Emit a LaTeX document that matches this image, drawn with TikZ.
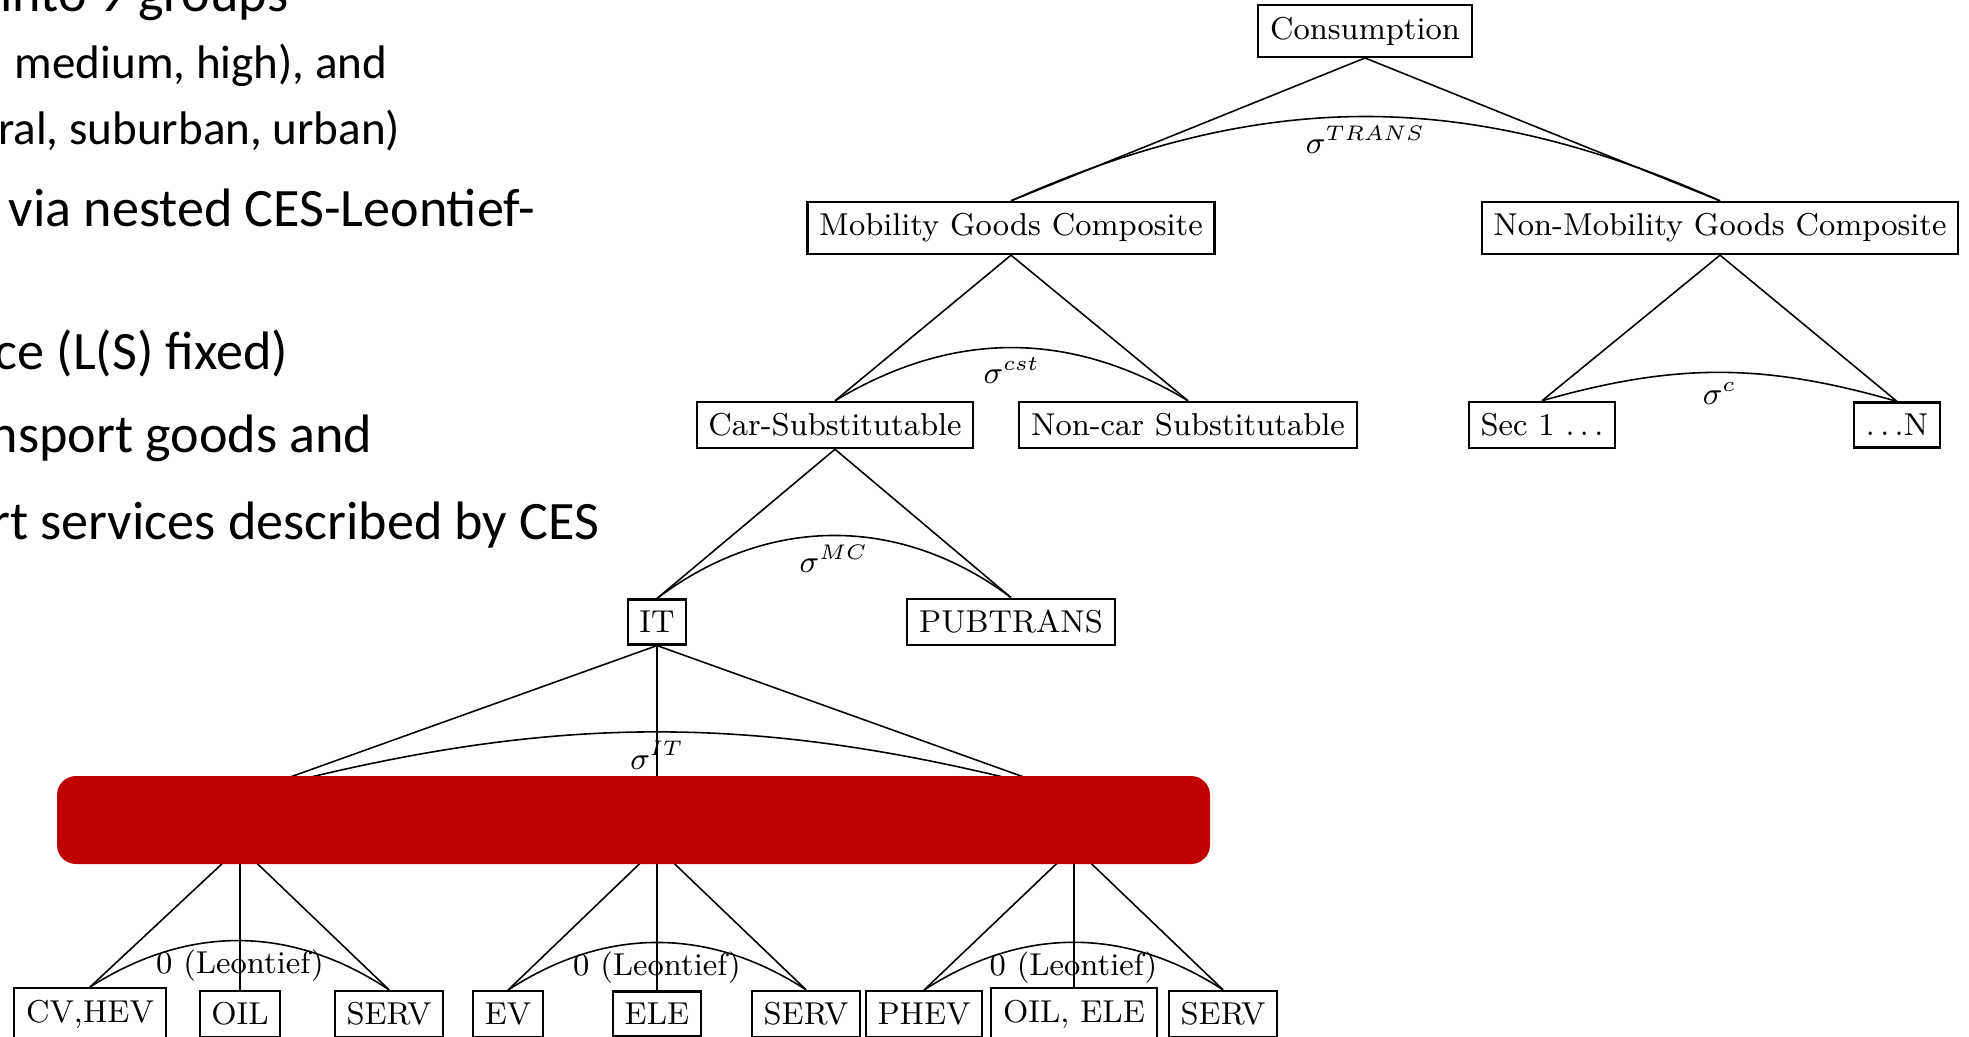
\documentclass[tikz,border=0pt]{standalone}
\usepackage{fontspec}
\newfontfamily\slidefont{Carlito}
\usetikzlibrary{calc}
\definecolor{slidered}{RGB}{192,0,0}
\tikzstyle{box} = [rectangle, draw=black, line width=0.6pt, font=\fontsize{9.0}{11}\selectfont]
\tikzstyle{edge} = [line width=0.45pt]
\tikzstyle{arc} = [line width=0.45pt]
\tikzstyle{elast} = [below, inner sep=2.5pt, font=\fontsize{9.0}{11}\selectfont]
\tikzstyle{slidetext} = [anchor=base east, inner sep=0pt, font=\slidefont\fontsize{15.4}{18}\selectfont]
\tikzstyle{slidesub} = [anchor=base east, inner sep=0pt, font=\slidefont\fontsize{13.4}{16}\selectfont]
\tikzstyle{redbar} = [rectangle, rounded corners=0.19cm, fill=slidered, minimum width=11.53cm, minimum height=0.88cm, inner sep=0pt]

\begin{document}
\begin{tikzpicture}[node distance=1.97cm]
    \useasboundingbox (0,0) rectangle (19.69,-10.36);
    \clip (0,0) rectangle (19.69,-10.36);

    % bullet text, cut at the left edge
    \node (txt_groups) [slidetext] at (2.89,-0.11) {into 9 groups};
    \node (txt_income) [slidesub] at (3.88,-0.78) {medium, high), and};
    \node (txt_region) [slidesub] at (4.01,-1.44) {ral, suburban, urban)};
    \node (txt_nested) [slidetext] at (5.36,-2.26) {via nested CES-Leontief-};
    \node (txt_fixed) [slidetext] at (2.89,-3.69) {ce (L(S) fixed)};
    \node (txt_goods) [slidetext] at (3.73,-4.52) {nsport goods and};
    \node (txt_serv) [slidetext] at (6.00,-5.39) {rt services described by CES};

    % tree
    \node (consumption) [box] at (13.65,-0.31) {Consumption};
    \node (mob_comp) [box, below of=consumption, xshift=-3.54cm] {Mobility Goods Composite};
    \node (nonmob_comp) [box, below of=consumption, xshift=3.55cm] {Non-Mobility Goods Composite};
    \node (car_sub) [box, below of=mob_comp, xshift=-1.76cm] {Car-Substitutable};
    \node (noncar_sub) [box, below of=mob_comp, xshift=1.77cm] {Non-car Substitutable};
    \node (sec_first) [box, below of=nonmob_comp, xshift=-1.78cm] {Sec 1 $\ldots$};
    \node (sec_last) [box, below of=nonmob_comp, xshift=1.77cm] {$\ldots$N};
    \node (it) [box, below of=car_sub, xshift=-1.78cm] {IT};
    \node (pubtrans) [box, below of=car_sub, xshift=1.76cm] {PUBTRANS};

    \coordinate (cv_top) at (2.40,-7.95);
    \coordinate (cv_bot) at (2.40,-8.47);
    \coordinate (ev_top) at (6.57,-7.95);
    \coordinate (ev_bot) at (6.57,-8.47);
    \coordinate (phev_top) at (10.74,-7.95);
    \coordinate (phev_bot) at (10.74,-8.47);

    \node (cv_hev) [box] at (0.90,-10.14) {CV,HEV};
    \node (oil) [box] at (2.40,-10.14) {OIL};
    \node (serv_cv) [box] at (3.89,-10.14) {SERV};
    \node (ev) [box] at (5.08,-10.14) {EV};
    \node (ele) [box] at (6.57,-10.14) {ELE};
    \node (serv_ev) [box] at (8.06,-10.14) {SERV};
    \node (phev) [box] at (9.24,-10.14) {PHEV};
    \node (oil_ele) [box] at (10.74,-10.14) {OIL, ELE};
    \node (serv_phev) [box] at (12.23,-10.14) {SERV};

    \draw [edge] (consumption.south) -- (mob_comp.north);
    \draw [edge] (consumption.south) -- (nonmob_comp.north);
    \draw [edge] (mob_comp.south) -- (car_sub.north);
    \draw [edge] (mob_comp.south) -- (noncar_sub.north);
    \draw [edge] (nonmob_comp.south) -- (sec_first.north);
    \draw [edge] (nonmob_comp.south) -- (sec_last.north);
    \draw [edge] (car_sub.south) -- (it.north);
    \draw [edge] (car_sub.south) -- (pubtrans.north);
    \draw [edge] (it.south) -- (cv_top);
    \draw [edge] (it.south) -- (ev_top);
    \draw [edge] (it.south) -- (phev_top);
    \draw [edge] (cv_bot) -- (cv_hev.north);
    \draw [edge] (cv_bot) -- (oil.north);
    \draw [edge] (cv_bot) -- (serv_cv.north);
    \draw [edge] (ev_bot) -- (ev.north);
    \draw [edge] (ev_bot) -- (ele.north);
    \draw [edge] (ev_bot) -- (serv_ev.north);
    \draw [edge] (phev_bot) -- (phev.north);
    \draw [edge] (phev_bot) -- (oil_ele.north);
    \draw [edge] (phev_bot) -- (serv_phev.north);

    \draw [arc] (mob_comp.north) to [bend left=24] node [elast] {$\sigma^{TRANS}$} (nonmob_comp.north);
    \draw [arc] (car_sub.north) to [bend left=31] node [elast] {$\sigma^{cst}$} (noncar_sub.north);
    \draw [arc] (sec_first.north) to [bend left=16] node [elast] {$\sigma^{c}$} (sec_last.north);
    \draw [arc] (it.north) to [bend left=37] node [elast] {$\sigma^{MC}$} (pubtrans.north);
    \draw [arc] (cv_top) to [bend left=15] node [elast] {$\sigma^{IT}$} (phev_top);
    \draw [arc] (cv_hev.north) to [bend left=33] node [elast] {0 (Leontief)} (serv_cv.north);
    \draw [arc] (ev.north) to [bend left=33] node [elast] {0 (Leontief)} (serv_ev.north);
    \draw [arc] (phev.north) to [bend left=33] node [elast] {0 (Leontief)} (serv_phev.north);

    \node (cover) [redbar] at (6.335,-8.20) {};
\end{tikzpicture}
\end{document}
